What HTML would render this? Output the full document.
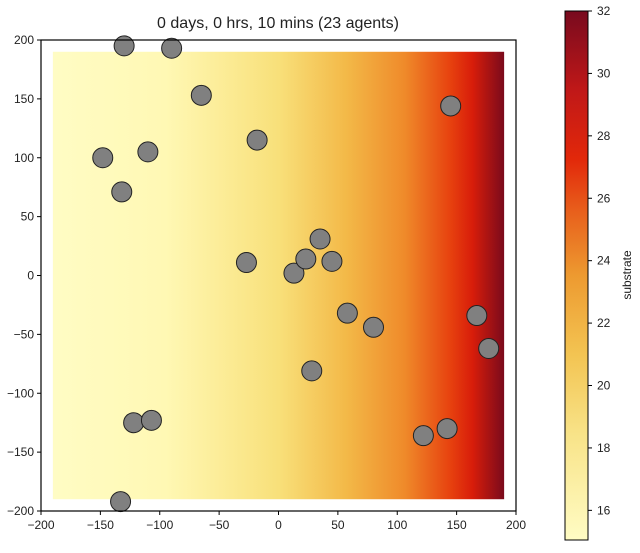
<!DOCTYPE html>
<html><head><meta charset="utf-8"><style>
body{margin:0;background:#fff;}
svg text{font-family:"Liberation Sans","DejaVu Sans",sans-serif;fill:#222;}
</style></head><body>
<svg id="c" width="640" height="548" xmlns="http://www.w3.org/2000/svg">
<defs>
<linearGradient id="hx" x1="0" x2="1" y1="0" y2="0">
<stop offset="0" stop-color="#fffcc4"/>
<stop offset="0.25" stop-color="#fff8b4"/>
<stop offset="0.5" stop-color="#f8e07a"/>
<stop offset="0.65" stop-color="#f3b948"/>
<stop offset="0.78" stop-color="#ef8a2a"/>
<stop offset="0.88" stop-color="#e7420f"/>
<stop offset="0.93" stop-color="#d81d0a"/>
<stop offset="1" stop-color="#7a0a1c"/>
</linearGradient>
<linearGradient id="cb" x1="0" x2="0" y1="1" y2="0">
<stop offset="0" stop-color="#fffcc4"/>
<stop offset="0.2" stop-color="#f8e388"/>
<stop offset="0.35" stop-color="#f3c452"/>
<stop offset="0.5" stop-color="#ed9a30"/>
<stop offset="0.62" stop-color="#e8601c"/>
<stop offset="0.72" stop-color="#e2280a"/>
<stop offset="0.85" stop-color="#c01818"/>
<stop offset="1" stop-color="#780a1e"/>
</linearGradient>
</defs>
<text x="278" y="28" font-size="16" text-anchor="middle">0 days, 0 hrs, 10 mins (23 agents)</text>
<g id="plot"></g>
<rect x="565" y="11" width="23" height="529" fill="url(#cb)" stroke="#000" stroke-width="1"/>
<g id="cbt"></g>
<text transform="translate(631,275) rotate(-90)" font-size="12" text-anchor="middle">substrate</text>
</svg>
<script>
const agentX=[-130,-90,-65,-148,-110,-18,145,-132,-27,13,23,35,45,58,80,167,177,28,-122,-107,122,142,-133];
const agentY=[195,193,153,100,105,115,144,71,11,2,14,31,12,-32,-44,-34,-62,-81,-125,-123,-136,-130,-192];
const xTicks=[-200,-150,-100,-50,0,50,100,150,200];
const yTicks=[-200,-150,-100,-50,0,50,100,150,200];
const cbTicks=[16,18,20,22,24,26,28,30,32];
const fieldExtent=[-190,190];
const cbRange=[15.05,32];
const NS="http://www.w3.org/2000/svg";
const X0=41,X1=516,Y0=511,Y1=40;
const sx=v=>X0+(v+200)/400*(X1-X0);
const sy=v=>Y0-(v+200)/400*(Y0-Y1);
const cy=v=>540-(v-cbRange[0])/(cbRange[1]-cbRange[0])*529;
function mk(t,a,p){const e=document.createElementNS(NS,t);for(const k in a)e.setAttribute(k,a[k]);p.appendChild(e);return e;}
const g=document.getElementById('plot');
const f=mk('rect',{x:sx(fieldExtent[0]),y:sy(fieldExtent[1]),width:sx(fieldExtent[1])-sx(fieldExtent[0]),height:sy(fieldExtent[0])-sy(fieldExtent[1]),fill:'url(#hx)'},g);


agentX.forEach((x,i)=>{const c=mk('circle',{cx:sx(x),cy:sy(agentY[i]),r:10,fill:'#808080',stroke:'#222','stroke-width':1},g);

});
const fr=mk('rect',{x:X0,y:Y1,width:X1-X0,height:Y0-Y1,fill:'none',stroke:'#000','stroke-width':1.2},g);


xTicks.forEach(v=>{mk('line',{x1:sx(v),x2:sx(v),y1:Y0,y2:Y0+4,stroke:'#000'},g);
const t=mk('text',{x:sx(v),y:Y0+18,'font-size':12,'text-anchor':'middle'},g);t.textContent=v<0?'\u2212'+(-v):v;

});
yTicks.forEach(v=>{mk('line',{x1:X0-4,x2:X0,y1:sy(v),y2:sy(v),stroke:'#000'},g);
const t=mk('text',{x:X0-7,y:sy(v)+4,'font-size':12,'text-anchor':'end'},g);t.textContent=v<0?'\u2212'+(-v):v;

});
const cg=document.getElementById('cbt');
cbTicks.forEach(v=>{mk('line',{x1:588,x2:592,y1:cy(v),y2:cy(v),stroke:'#000'},cg);
const t=mk('text',{x:597,y:cy(v)+4,'font-size':12},cg);t.textContent=v;

});
</script>
</body></html>
